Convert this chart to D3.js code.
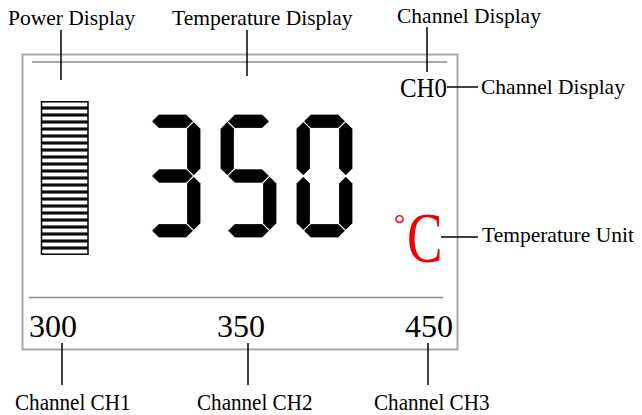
<!DOCTYPE html>
<html>
<head>
<meta charset="utf-8">
<script src="https://cdn.jsdelivr.net/npm/d3@7"></script>
<style>
  html, body { margin: 0; padding: 0; background: #fff; }
  svg text { font-family: "Liberation Serif", "Times New Roman", serif; fill: #000; }
</style>
</head>
<body>
<div id="panel"></div>
<script>
'use strict';

// --- Daten ---------------------------------------------------------------
const tempDigits    = ['3', '5', '0'];
const channelName   = 'CH0';
const channelValues = [300, 350, 450];
const channelLabels = ['Channel CH1', 'Channel CH2', 'Channel CH3'];
const topLabels     = ['Power Display', 'Temperature Display', 'Channel Display'];
const sideLabels    = ['Channel Display', 'Temperature Unit'];
const unitSymbol    = ['°', 'C'];
const powerBars     = 22;

// 7-Segment Belegung
const SEGMENTS = {
  '0': 'abcdef', '1': 'bc', '2': 'abdeg', '3': 'abcdg', '4': 'bcfg',
  '5': 'acdfg', '6': 'acdefg', '7': 'abc', '8': 'abcdefg', '9': 'abcdfg'
};

(function () {
  const width = 642, height = 415;

  const svg = d3.select('#panel')
    .append('svg')
    .attr('width', width)
    .attr('height', height);

  // Rahmen des Displays
  svg.append('rect')
    .attr('x', 22.5).attr('y', 54.5)
    .attr('width', 435).attr('height', 295)
    .attr('fill', 'none')
    .attr('stroke', '#a8a8a8')
    .attr('stroke-width', 2);

  // innere Trennlinien
  svg.append('line')
    .attr('x1', 32).attr('x2', 447).attr('y1', 62).attr('y2', 62)
    .attr('stroke', '#8a8a8a').attr('stroke-width', 1.5);
  svg.append('line')
    .attr('x1', 29).attr('x2', 443).attr('y1', 297.5).attr('y2', 297.5)
    .attr('stroke', '#8a8a8a').attr('stroke-width', 1.5);

  // --- Leistungsbalken ---
  const yBar = d3.scaleBand()
    .domain(d3.range(powerBars))
    .range([101, 255]);

  svg.append('g')
    .selectAll('rect')
    .data(d3.range(powerBars))
    .join('rect')
    .attr('x', 41.5)
    .attr('y', d => yBar(d) + 0.8)
    .attr('width', 46.5)
    .attr('height', yBar.step() - 1.6)
    .attr('fill', '#fff')
    .attr('stroke', '#000')
    .attr('stroke-width', 1.5);

  // --- 7-Segment Temperaturanzeige ---
  const xDigit = d3.scaleBand()
    .domain(d3.range(tempDigits.length))
    .range([145, 352])
    .paddingInner(0.276);

  const DH = 122, t = 12.5, gap = 1.3;
  const DW = xDigit.bandwidth();

  function segPoints(name) {
    const x0 = t / 2, x1 = DW - t / 2, y0 = t / 2, ym = DH / 2, y1 = DH - t / 2;
    const h = y => [[x0 + gap, y], [x0 + gap + t / 2, y - t / 2], [x1 - gap - t / 2, y - t / 2],
                    [x1 - gap, y], [x1 - gap - t / 2, y + t / 2], [x0 + gap + t / 2, y + t / 2]];
    const v = (x, ya, yb) => [[x, ya + gap], [x + t / 2, ya + gap + t / 2], [x + t / 2, yb - gap - t / 2],
                              [x, yb - gap], [x - t / 2, yb - gap - t / 2], [x - t / 2, ya + gap + t / 2]];
    switch (name) {
      case 'a': return h(y0);
      case 'g': return h(ym);
      case 'd': return h(y1);
      case 'b': return v(x1, y0, ym);
      case 'c': return v(x1, ym, y1);
      case 'f': return v(x0, y0, ym);
      case 'e': return v(x0, ym, y1);
    }
  }

  const poly = d3.line().curve(d3.curveLinearClosed);

  const gDigits = svg.append('g')
    .selectAll('g')
    .data(tempDigits)
    .join('g')
    .attr('transform', (d, i) => `translate(${xDigit(i)},115)`);

  gDigits.selectAll('path')
    .data(d => SEGMENTS[d].split(''))
    .join('path')
    .attr('d', s => poly(segPoints(s)))
    .attr('fill', '#000')
    .attr('stroke', '#000')
    .attr('stroke-width', 0.8)
    .attr('stroke-linejoin', 'round');

  // --- Kanalanzeige CH0 ---
  svg.append('text')
    .attr('transform', 'translate(400,97) scale(0.89,1)')
    .attr('font-size', 28)
    .text(channelName);

  // --- Einheit °C ---
  svg.append('text')
    .attr('x', 394).attr('y', 233)
    .attr('font-size', 28)
    .style('fill', '#e00')
    .text(unitSymbol[0]);
  svg.append('text')
    .attr('transform', 'translate(407,262) scale(0.74,1)')
    .attr('font-size', 72)
    .style('fill', '#e00')
    .text(unitSymbol[1]);

  // --- Kanalwerte unten ---
  const valueX = [29, 217, 405];
  svg.append('g')
    .selectAll('text')
    .data(channelValues)
    .join('text')
    .attr('x', (d, i) => valueX[i])
    .attr('y', 337)
    .attr('font-size', 32)
    .text(d => d);

  // --- Beschriftungen mit Führungslinien ---
  const leader = (x1, y1, x2, y2) => svg.append('line')
    .attr('x1', x1).attr('y1', y1).attr('x2', x2).attr('y2', y2)
    .attr('stroke', '#000').attr('stroke-width', 1.5);

  // oben
  const topPos = [
    { tx: 8,   ty: 25, lx: 61,  ly1: 30, ly2: 80 },
    { tx: 172, ty: 25, lx: 247, ly1: 30, ly2: 76 },
    { tx: 397, ty: 23, lx: 427, ly1: 27, ly2: 72 }
  ];
  topLabels.forEach((label, i) => {
    const p = topPos[i];
    svg.append('text').attr('x', p.tx).attr('y', p.ty).attr('font-size', 21.5).text(label);
    leader(p.lx, p.ly1, p.lx, p.ly2);
  });

  // rechts
  const sidePos = [
    { tx: 481, ty: 94,  lx1: 447, lx2: 478, ly: 87 },
    { tx: 482, ty: 242, lx1: 441, lx2: 478, ly: 237 }
  ];
  sideLabels.forEach((label, i) => {
    const p = sidePos[i];
    leader(p.lx1, p.ly, p.lx2, p.ly);
    svg.append('text').attr('x', p.tx).attr('y', p.ty).attr('font-size', 21.5).text(label);
  });

  // unten
  const bottomPos = [
    { tx: 15,  lx: 62 },
    { tx: 197, lx: 248 },
    { tx: 374, lx: 428 }
  ];
  channelLabels.forEach((label, i) => {
    const p = bottomPos[i];
    leader(p.lx, 343, p.lx, 385);
    svg.append('text')
      .attr('transform', `translate(${p.tx},410) scale(0.88,1)`)
      .attr('font-size', 24)
      .text(label);
  });
})();
</script>
</body>
</html>
